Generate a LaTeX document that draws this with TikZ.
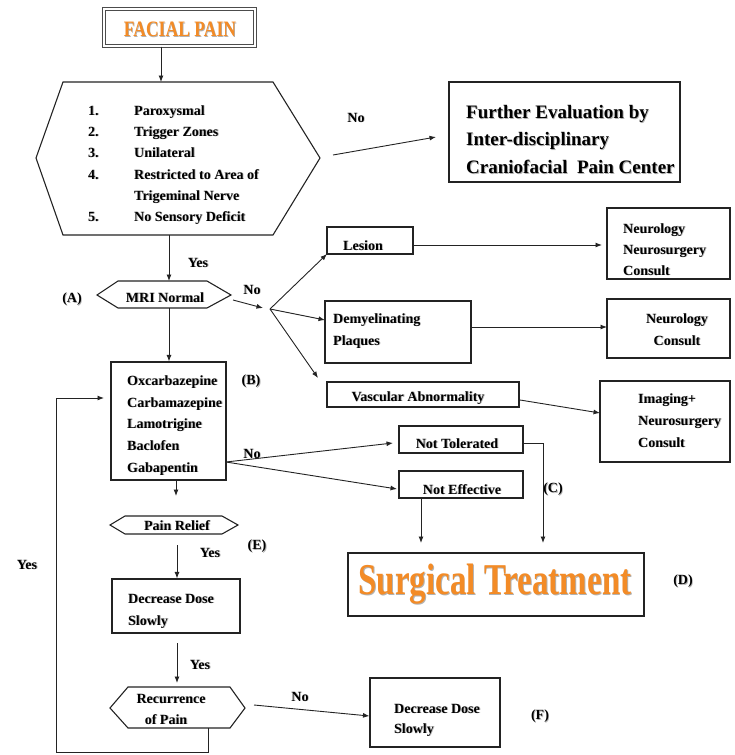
\documentclass[tikz,border=0pt]{standalone}
\usepackage{fontspec}
\setmainfont{Liberation Serif}
\usetikzlibrary{arrows.meta,fit}
\definecolor{orng}{RGB}{243,139,38}
\definecolor{edge}{RGB}{35,35,35}
\newcommand\shd[1]{\makebox[0pt][l]{\hspace{0.9pt}\raisebox{-0.9pt}{\color{black!30}#1}}#1}
\tikzset{
  box/.style={draw=edge, line width=1.1pt, inner sep=0pt},
  hexline/.style={draw=edge, line width=1.1pt, line join=miter},
  lbl/.style={font=\bfseries\fontsize{14}{16}\selectfont, inner sep=0pt},
  big/.style={font=\bfseries\fontsize{19}{21}\selectfont, inner sep=0pt},
  conn/.style={line width=0.9pt, draw=edge},
  arr/.style={conn, -{Latex[length=6.5pt,width=5pt]}},
}
\begin{document}
\begin{tikzpicture}[x=1pt,y=-1pt]
\useasboundingbox (0,0) rectangle (735,755);

% ---------- FACIAL PAIN ----------
\node[draw=black!70, line width=1.3pt, double=white, double distance=1.2pt, inner sep=0pt, fit={(104,9) (255,46)}] (facial) {};
\node[font=\bfseries\fontsize{22}{22}\selectfont, text=orng, inner sep=0pt] (facialt) at (180,30) {\scalebox{0.8}[1]{\shd{FACIAL PAIN}}};

% ---------- criteria hexagon ----------
\draw[hexline] (36,158) -- (63,82) -- (273,82) -- (320,158) -- (273,235) -- (63,235) -- cycle;
\coordinate (critTop) at (161,82);
\coordinate (critBot) at (169,235);
\coordinate (critRight) at (333,155);
\node[lbl, anchor=base west] (n1) at (88,115) {\shd{1.}};
\node[lbl, anchor=base west] (n2) at (88,136) {\shd{2.}};
\node[lbl, anchor=base west] (n3) at (88,157) {\shd{3.}};
\node[lbl, anchor=base west] (n4) at (88,179) {\shd{4.}};
\node[lbl, anchor=base west] (n5) at (88,221) {\shd{5.}};
\node[lbl, anchor=base west] (c1) at (134,115) {\shd{Paroxysmal}};
\node[lbl, anchor=base west] (c2) at (134,136) {\shd{Trigger Zones}};
\node[lbl, anchor=base west] (c3) at (134,157) {\shd{Unilateral}};
\node[lbl, anchor=base west] (c4) at (134,179) {\shd{Restricted to Area of}};
\node[lbl, anchor=base west] (c4b) at (134,200) {\shd{Trigeminal Nerve}};
\node[lbl, anchor=base west] (c5) at (134,221) {\shd{No Sensory Deficit}};

\draw[arr] (facial.south -| critTop) -- (critTop);

% ---------- Further evaluation ----------
\node[box, fit={(449,82) (680,182)}] (further) {};
\node[big, anchor=base west] (f1) at (466,118.5) {\shd{Further Evaluation by}};
\node[big, anchor=base west] (f2) at (466,145.5) {\shd{Inter-disciplinary}};
\node[big, anchor=base west] (f3) at (466,173.5) {\shd{Craniofacial~~Pain Center}};
\coordinate (furtherIn) at (436,137);
\draw[arr] (critRight) -- (furtherIn);
\node[lbl] (no1) at (356,118) {\shd{No}};

% ---------- MRI Normal ----------
\draw[hexline] (97,295) -- (118,281) -- (207,281) -- (231,295) -- (207,308) -- (118,308) -- cycle;
\coordinate (mriTop) at (169,281);
\coordinate (mriBot) at (169,308);
\node[lbl, anchor=base] (mrit) at (165,302) {\shd{MRI Normal}};
\draw[arr] (critBot) -- (mriTop);
\node[lbl] (yes1) at (198,263) {\shd{Yes}};
\node[lbl] (labA) at (72,300) {\shd{(A)}};
\node[lbl] (no2) at (252,290) {\shd{No}};
\coordinate (mriRight) at (233,300);
\coordinate (fanIn) at (263,308);
\coordinate (fan) at (270,309);
\draw[arr] (mriRight) -- (fanIn);

% ---------- MRI abnormal branches ----------
\node[box, fit={(327,227) (413,254)}] (lesion) {};
\node[lbl, anchor=base west] (lesiont) at (343,250) {\shd{Lesion}};
\node[box, fit={(325,301) (471,363)}] (demy) {};
\node[lbl, anchor=base west] (demyt1) at (333,323) {\shd{Demyelinating}};
\node[lbl, anchor=base west] (demyt2) at (333,345) {\shd{Plaques}};
\node[box, fit={(327,382) (519,407)}] (vasc) {};
\node[lbl, anchor=base] (vasct) at (418,401) {\shd{Vascular Abnormality}};

\coordinate (lesIn) at (327,254);
\coordinate (demyIn) at (325,320);
\coordinate (vascIn) at (318,378);
\draw[arr] (fan) -- (lesIn);
\draw[arr] (fan) -- (demyIn);
\draw[arr] (fan) -- (vascIn);

\node[box, fit={(607,208) (730,279)}] (nn) {};
\node[lbl, anchor=base west] (nn1) at (623,233) {\shd{Neurology}};
\node[lbl, anchor=base west] (nn2) at (623,254) {\shd{Neurosurgery}};
\node[lbl, anchor=base west] (nn3) at (623,275) {\shd{Consult}};
\node[box, fit={(607,299) (730,358)}] (nc) {};
\node[lbl, anchor=base] (nc1) at (677,323) {\shd{Neurology}};
\node[lbl, anchor=base] (nc2) at (677,345) {\shd{Consult}};
\node[box, fit={(600,381) (730,462)}] (img) {};
\node[lbl, anchor=base west] (img1) at (638,403) {\shd{Imaging+}};
\node[lbl, anchor=base west] (img2) at (638,425) {\shd{Neurosurgery}};
\node[lbl, anchor=base west] (img3) at (638,447) {\shd{Consult}};

\coordinate (lesOut) at (413,245);
\coordinate (nnIn) at (602,245);
\draw[arr] (lesOut) -- (nnIn);
\coordinate (demyOut) at (471,327);
\coordinate (ncIn) at (607,327);
\draw[arr] (demyOut) -- (ncIn);
\coordinate (vascOut) at (520,400);
\coordinate (imgIn) at (600,413);
\draw[arr] (vascOut) -- (imgIn);

% ---------- drugs ----------
\node[box, fit={(111,362) (226,480)}] (drugs) {};
\node[lbl, anchor=base west] (d1) at (127,385) {\shd{Oxcarbazepine}};
\node[lbl, anchor=base west] (d2) at (127,407) {\shd{Carbamazepine}};
\node[lbl, anchor=base west] (d3) at (127,428) {\shd{Lamotrigine}};
\node[lbl, anchor=base west] (d4) at (127,450) {\shd{Baclofen}};
\node[lbl, anchor=base west] (d5) at (127,472) {\shd{Gabapentin}};
\node[lbl] (labB) at (251,382) {\shd{(B)}};
\draw[arr] (mriBot) -- (drugs.north -| mriBot);

% ---------- not tolerated / not effective ----------
\node[box, fit={(399,426) (523,453)}] (nt) {};
\node[lbl, anchor=base] (ntt) at (457,448) {\shd{Not Tolerated}};
\node[box, fit={(399,471) (523,498)}] (ne) {};
\node[lbl, anchor=base] (net) at (462,494) {\shd{Not Effective}};
\coordinate (drugOut) at (226,462);
\coordinate (ntIn) at (393,443);
\coordinate (neIn) at (397,489);
\draw[arr] (drugOut) -- (ntIn);
\draw[arr] (drugOut) -- (neIn);
\node[lbl] (no3) at (252,454) {\shd{No}};

% ---------- surgical ----------
\node[box, fit={(348,553) (644,616)}] (surg) {};
\node[font=\bfseries\fontsize{44}{44}\selectfont, text=orng, inner sep=0pt] (surgt) at (495,585) {\scalebox{0.75}[1]{\shd{Surgical Treatment}}};
\node[lbl] (labD) at (683,582) {\shd{(D)}};
\coordinate (ntOut) at (523,443);
\coordinate (ntTurn) at (543,443);
\coordinate (surgInR) at (543,543);
\draw[arr] (ntOut) -- (ntTurn) -- (surgInR);
\coordinate (neOut) at (421,498);
\coordinate (surgInL) at (421,543);
\draw[arr] (neOut) -- (surgInL);
\node[lbl] (labC) at (553,490) {\shd{(C)}};

% ---------- pain relief ----------
\coordinate (drugBot) at (176,480);
\coordinate (drugArr) at (176,496);
\draw[arr] (drugBot) -- (drugArr);
\draw[hexline] (110,525) -- (125,516) -- (222,516) -- (238,525) -- (222,534) -- (125,534) -- cycle;
\node[lbl, anchor=base] (prt) at (177,530) {\shd{Pain Relief}};
\coordinate (prOut) at (177,545);
\node[box, fit={(112,579) (240,633)}] (dec1) {};
\node[lbl, anchor=base west] (dec1a) at (128,603) {\shd{Decrease Dose}};
\node[lbl, anchor=base west] (dec1b) at (128,625) {\shd{Slowly}};
\draw[arr] (prOut) -- (dec1.north -| prOut);
\node[lbl] (yes2) at (210,553) {\shd{Yes}};
\node[lbl] (labE) at (257,547) {\shd{(E)}};

% ---------- recurrence ----------
\coordinate (dec1Out) at (177,643);
\coordinate (recIn) at (177,683);
\draw[arr] (dec1Out) -- (recIn);
\node[lbl] (yes3) at (200,665) {\shd{Yes}};
\draw[hexline] (110,708) -- (128,687) -- (230,687) -- (245,708) -- (230,728) -- (128,728) -- cycle;
\node[lbl, anchor=base] (rec1) at (171,703) {\shd{Recurrence}};
\node[lbl, anchor=base] (rec2) at (166,724) {\shd{of Pain}};

\node[box, fit={(370,678) (500,747)}] (dec2) {};
\node[lbl, anchor=base west] (dec2a) at (394,713) {\shd{Decrease Dose}};
\node[lbl, anchor=base west] (dec2b) at (394,733) {\shd{Slowly}};
\node[lbl] (labF) at (540,717) {\shd{(F)}};
\coordinate (recOut) at (254,705);
\draw[arr] (recOut) -- (dec2.west |- 0,716);
\node[lbl] (no4) at (300,697) {\shd{No}};

% ---------- loop back ----------
\coordinate (recBot) at (208,728);
\coordinate (loopA) at (208,752);
\coordinate (loopB) at (56,752);
\coordinate (loopC) at (56,398);
\coordinate (loopEnd) at (104,398);
\draw[arr] (recBot) -- (loopA) -- (loopB) -- (loopC) -- (loopEnd);
\node[lbl] (yes4) at (27,565) {\shd{Yes}};
\end{tikzpicture}
\end{document}
